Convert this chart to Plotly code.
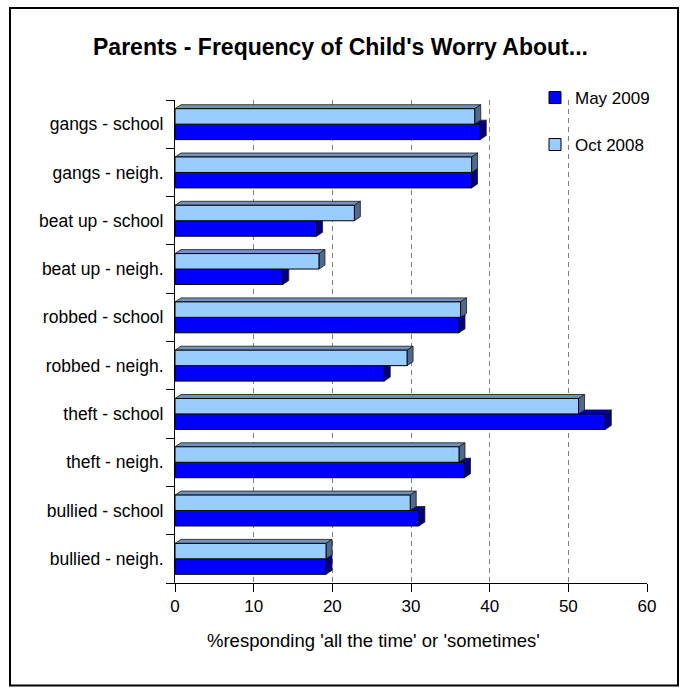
import plotly.graph_objects as go

# ---------------- data ----------------
categories = ["bullied - neigh.", "bullied - school", "theft - neigh.", "theft - school",
              "robbed - neigh.", "robbed - school", "beat up - neigh.", "beat up - school",
              "gangs - neigh.", "gangs - school"]
may_2009 = [19.2, 31.0, 36.8, 54.7, 26.6, 36.1, 13.7, 18.0, 37.7, 38.8]
oct_2008 = [19.2, 29.9, 36.1, 51.3, 29.5, 36.3, 18.3, 22.8, 37.7, 38.1]
x_ticks = [0, 10, 20, 30, 40, 50, 60]

# ---------------- layout constants ----------------
W, H = 681, 692
L, R, T, B = 175, 34, 100, 108.5
plot_w = W - L - R
plot_h = H - T - B
x_max = 60
n = len(categories)
bar_w = 0.32
dx = 6 * x_max / plot_w          # depth offset in data units (x)
dy = 4 * n / plot_h              # depth offset in data units (y)

FONT = "Liberation Sans, Arial, sans-serif"
MAY_C, OCT_C = "#0000FF", "#99CCFF"
MAY_TOP, MAY_SIDE = "#0000A8", "#000080"
OCT_TOP, OCT_SIDE = "#7092BE", "#4F6A8C"

idx = list(range(n))

fig = go.Figure()
fig.add_trace(go.Bar(
    y=idx, x=may_2009, orientation="h", name="May 2009",
    offset=-bar_w, width=bar_w,
    marker=dict(color=MAY_C, line=dict(color="#000000", width=1)),
    legend="legend", showlegend=True))
fig.add_trace(go.Bar(
    y=idx, x=oct_2008, orientation="h", name="Oct 2008",
    offset=0, width=bar_w,
    marker=dict(color=OCT_C, line=dict(color="#000000", width=1)),
    legend="legend2", showlegend=True))

shapes = []

def faces(v, yb, yt, top_c, side_c):
    top = f"M 0,{yt} L {v},{yt} L {v+dx},{yt+dy} L {dx},{yt+dy} Z"
    side = f"M {v},{yb} L {v},{yt} L {v+dx},{yt+dy} L {v+dx},{yb+dy} Z"
    out = []
    for p, c in ((top, top_c), (side, side_c)):
        out.append(dict(type="path", path=p, xref="x", yref="y", layer="between",
                        fillcolor=c, line=dict(color="#1a1a1a", width=0.8)))
    return out

for i in idx:
    shapes += faces(may_2009[i], i - bar_w, i, MAY_TOP, MAY_SIDE)
for i in idx:
    shapes += faces(oct_2008[i], i, i + bar_w, OCT_TOP, OCT_SIDE)

# outer chart frame
def px2x(px):
    return (px - L) / plot_w
def py2y(py):
    return (H - B - py) / plot_h

shapes.append(dict(type="rect", xref="paper", yref="paper",
                   x0=px2x(10), x1=px2x(678), y0=py2y(686), y1=py2y(8),
                   line=dict(color="#000000", width=2), fillcolor="rgba(0,0,0,0)",
                   layer="above"))

fig.update_layout(
    width=W, height=H,
    margin=dict(l=L, r=R, t=T, b=B),
    paper_bgcolor="white", plot_bgcolor="white",
    barmode="overlay",
    font=dict(family=FONT, size=17, color="#000000"),
    title=dict(text="<b>Parents - Frequency of Child's Worry About...</b>",
               x=0.5, xref="container", xanchor="center",
               y=1 - 47 / H, yanchor="middle",
               font=dict(family=FONT, size=23, color="#000000")),
    xaxis=dict(range=[0, x_max], tickvals=x_ticks, ticktext=[str(t) for t in x_ticks],
               showline=True, linecolor="#000000", linewidth=1,
               ticks="outside", ticklen=8, tickcolor="#000000",
               showgrid=True, gridcolor="#808080", gridwidth=1, griddash="5px,4px",
               zeroline=False, tickfont=dict(size=17), fixedrange=True),
    yaxis=dict(range=[-0.5, n - 0.5], tickvals=idx, ticktext=categories,
               showline=True, linecolor="#000000", linewidth=1,
               ticks="outside", ticklen=7, tickcolor="rgba(0,0,0,0)",
               minor=dict(ticks="outside", tick0=-0.5, dtick=1, ticklen=8,
                          tickcolor="#000000", showgrid=False),
               showgrid=False, zeroline=False, tickfont=dict(size=17.5), fixedrange=True),
    legend=dict(x=px2x(535), y=py2y(98), xanchor="left", yanchor="middle",
                bgcolor="rgba(0,0,0,0)", font=dict(size=17)),
    legend2=dict(x=px2x(535), y=py2y(145), xanchor="left", yanchor="middle",
                 bgcolor="rgba(0,0,0,0)", font=dict(size=17)),
    shapes=shapes,
    annotations=[dict(text="%responding 'all the time' or 'sometimes'",
                      xref="paper", yref="paper", x=px2x(373), y=py2y(641),
                      xanchor="center", yanchor="middle", showarrow=False,
                      font=dict(size=18.5, color="#000000"))],
)

fig.write_html("out.html", config={"displayModeBar": False},
               post_script="document.body.style.margin='0px';"
                           "document.body.style.overflow='hidden';")
